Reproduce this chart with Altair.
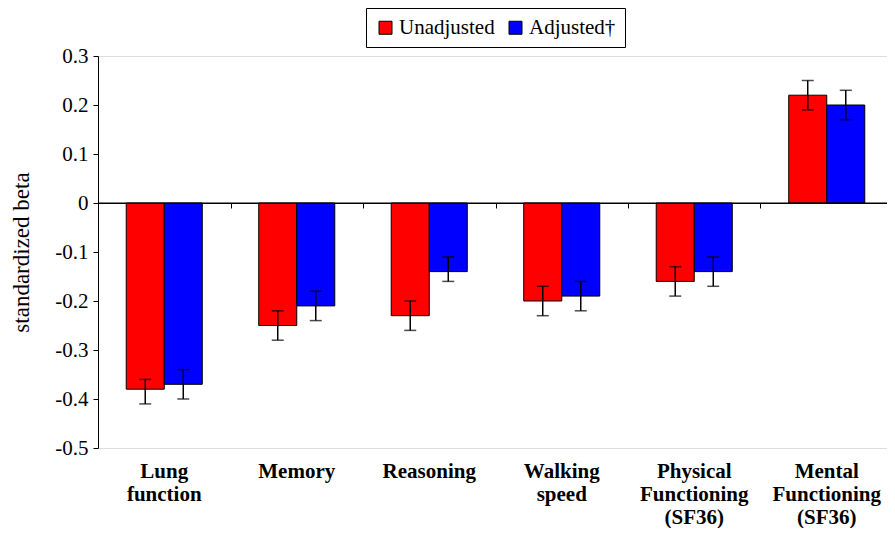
import altair as alt
import pandas as pd

categories = ["Lung|function", "Memory", "Reasoning", "Walking|speed",
              "Physical|Functioning|(SF36)", "Mental|Functioning|(SF36)"]
series = ["Unadjusted", "Adjusted\u2020"]
colors = ["#FF0000", "#0000FF"]

unadj = [-0.38, -0.25, -0.23, -0.20, -0.16, 0.22]
unadj_lo = [-0.41, -0.28, -0.26, -0.23, -0.19, 0.19]
unadj_hi = [-0.36, -0.22, -0.20, -0.17, -0.13, 0.25]
adj = [-0.37, -0.21, -0.14, -0.19, -0.14, 0.20]
adj_lo = [-0.40, -0.24, -0.16, -0.22, -0.17, 0.17]
adj_hi = [-0.34, -0.18, -0.11, -0.16, -0.11, 0.23]
y_ticks = [-0.5, -0.4, -0.3, -0.2, -0.1, 0, 0.1, 0.2, 0.3]

rows = []
for i, c in enumerate(categories):
    rows.append({"cat": c, "series": series[0], "v": unadj[i], "lo": unadj_lo[i], "hi": unadj_hi[i]})
    rows.append({"cat": c, "series": series[1], "v": adj[i], "lo": adj_lo[i], "hi": adj_hi[i]})
df = pd.DataFrame(rows)

FONT = "Liberation Serif"
W, H = 789, 392
STEP = 132.5
P_IN = 0.426
P_OUT = (W / STEP - (len(categories) - P_IN)) / 2
ALIGN = (P_IN / 2 * STEP) / (2 * P_OUT * STEP)

xscale = alt.Scale(paddingInner=P_IN, paddingOuter=P_OUT, align=ALIGN)
xoff = alt.XOffset("series:N", sort=series, scale=alt.Scale(paddingInner=0, paddingOuter=0))
yscale = alt.Scale(domain=[-0.5, 0.3], nice=False, zero=False)

label_axis = alt.Axis(
    title=None, domain=False, ticks=False, labelAngle=0,
    labelExpr="split(datum.label, '|')", labelFont=FONT, labelFontSize=21,
    labelFontWeight="bold", labelColor="black", labelLineHeight=23,
    labelPadding=12, labelBaseline="top", orient="bottom",
)
zero_axis = alt.Axis(
    title=None, labels=False, domain=True, domainColor="black", domainWidth=1,
    ticks=True, bandPosition=1, tickExtra=False, tickOffset=P_IN * STEP / 2,
    tickSize=5, tickColor="black", tickWidth=1, orient="bottom", offset=-245, grid=False,
)
yaxis = alt.Axis(
    title="standardized beta", values=y_ticks, grid=False,
    labelExpr="(datum.value < -1e-9 ? '-' : '') + format(abs(datum.value), '.1~f')",
    labelFont=FONT, labelFontSize=21, labelColor="black", labelPadding=5,
    tickSize=5, tickColor="black", domainColor="black",
    titleFont=FONT, titleFontSize=23, titleFontWeight="normal", titleColor="black",
    titlePadding=21,
)

base = alt.Chart(df)

bars = base.mark_bar(stroke="black", strokeWidth=1).encode(
    x=alt.X("cat:N", sort=categories, scale=xscale, axis=label_axis),
    xOffset=xoff,
    y=alt.Y("v:Q", scale=yscale, axis=yaxis),
    color=alt.Color(
        "series:N", sort=series, scale=alt.Scale(domain=series, range=colors),
        legend=alt.Legend(
            title=None, orient="none", legendX=268, legendY=-48, direction="horizontal",
            symbolType="square", symbolSize=169, symbolStrokeColor="black",
            symbolStrokeWidth=1, symbolOpacity=1, labelFont=FONT, labelFontSize=21,
            labelColor="black", labelOffset=3, columnPadding=10, padding=9,
            strokeColor="black", fillColor="white", cornerRadius=0,
        ),
    ),
)

zero_rule = alt.Chart(pd.DataFrame({"z": [0]})).mark_rule(color="black", strokeWidth=1).encode(
    y=alt.Y("z:Q", scale=yscale),
)

err = base.mark_rule(color="black", strokeWidth=1.5).encode(
    x=alt.X("cat:N", sort=categories, scale=xscale, axis=None),
    xOffset=xoff,
    y=alt.Y("lo:Q", scale=yscale),
    y2="hi:Q",
)
cap_lo = base.mark_tick(color="black", thickness=1.5, size=12).encode(
    x=alt.X("cat:N", sort=categories, scale=xscale, axis=None),
    xOffset=xoff,
    y=alt.Y("lo:Q", scale=yscale),
)
cap_hi = base.mark_tick(color="black", thickness=1.5, size=12).encode(
    x=alt.X("cat:N", sort=categories, scale=xscale, axis=None),
    xOffset=xoff,
    y=alt.Y("hi:Q", scale=yscale),
)
zero_layer = base.mark_point(opacity=0).encode(
    x=alt.X("cat:N", sort=categories, scale=xscale, axis=zero_axis),
    y=alt.Y("v:Q", scale=yscale),
)

chart = alt.layer(bars, zero_rule, err, cap_lo, cap_hi, zero_layer).resolve_axis(
    x="independent"
).properties(
    width=W, height=H,
    padding={"left": 90, "top": 48, "right": 0, "bottom": 80},
    autosize=alt.AutoSizeParams(type="none"),
).configure_view(stroke=None).configure(font=FONT)

chart.save("out.html", embed_options={"renderer": "svg", "actions": False})
